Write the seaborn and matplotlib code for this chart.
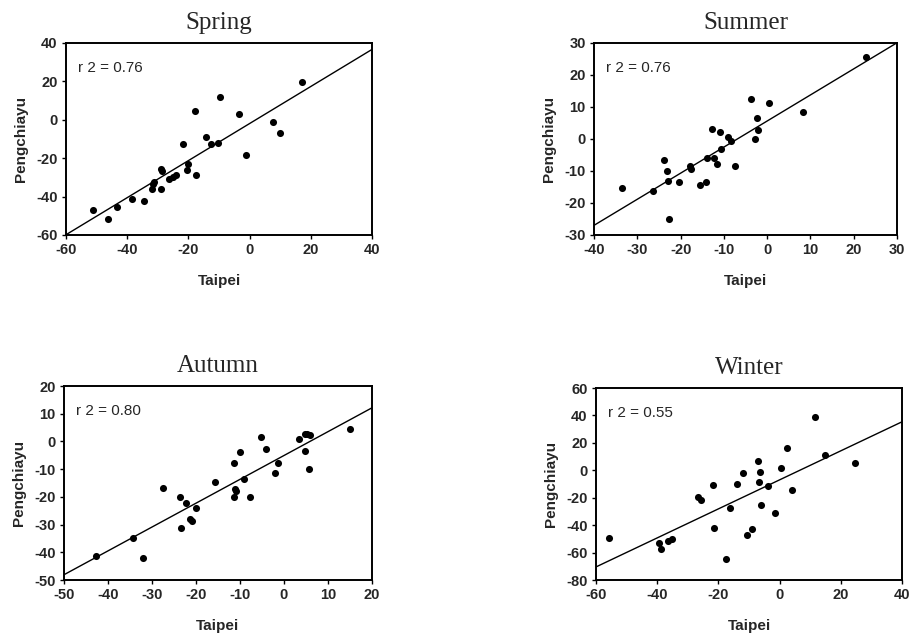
import numpy as np
import pandas as pd
import matplotlib
matplotlib.use("Agg")
import matplotlib.pyplot as plt
import seaborn as sns

sns.set_theme(style="white")
plt.rcParams['font.family'] = ['Liberation Sans', 'DejaVu Sans']
plt.rcParams['axes.unicode_minus'] = False

# ---- data ----
spring_taipei = [-51.1, -46.4, -43.4, -38.5, -34.4, -32.0, -31.2, -31.5, -29.0, -28.7,
                 -29.0, -26.2, -24.9, -24.1, -21.8, -20.2, -20.3, -18.0, -17.6, -14.2,
                 -12.6, -10.2, -9.7, -3.5, -1.1, 7.5, 10.0, 17.2]
spring_peng = [-47.0, -51.7, -45.2, -41.2, -42.4, -36.2, -32.2, -33.5, -25.7, -26.8,
               -36.0, -31.0, -30.0, -29.0, -12.7, -23.0, -26.0, 4.7, -29.0, -8.7,
               -12.7, -12.2, 11.8, 3.0, -18.1, -0.9, -7.0, 19.7]

summer_taipei = [-33.6, -26.4, -23.8, -23.2, -23.0, -22.7, -20.4, -17.8, -17.6, -15.6,
                 -14.1, -13.8, -12.8, -12.2, -11.5, -10.9, -10.6, -9.1, -8.4, -7.4,
                 -3.8, -2.7, -2.3, -2.1, 0.4, 8.3, 22.8]
summer_peng = [-15.2, -16.2, -6.5, -10.0, -13.2, -25.0, -13.5, -8.5, -9.5, -14.5,
               -13.3, -5.8, 3.2, -6.0, -7.8, 2.1, -3.1, 0.6, -0.5, -8.5,
               12.5, -0.1, 6.5, 2.7, 11.1, 8.5, 25.5]

autumn_taipei = [-42.7, -34.4, -32.0, -27.6, -23.7, -23.3, -22.3, -21.3, -20.8, -19.9,
                 -15.7, -11.4, -11.3, -11.2, -10.8, -9.9, -9.0, -7.8, -5.2, -4.0,
                 -2.1, -1.3, 3.4, 4.7, 4.8, 5.3, 5.9, 5.7, 14.9]
autumn_peng = [-41.4, -34.8, -41.9, -16.7, -20.2, -31.1, -22.2, -28.1, -28.6, -23.9,
               -14.7, -7.8, -20.2, -17.3, -17.9, -3.7, -13.6, -20.0, 1.7, -2.9,
               -11.4, -7.8, 0.7, -3.6, 2.7, 2.6, 2.4, -9.8, 4.4]

winter_taipei = [-55.8, -39.3, -38.7, -36.4, -35.2, -26.7, -25.6, -21.7, -21.5, -17.6,
                 -16.2, -13.8, -11.8, -10.5, -9.0, -7.2, -6.8, -6.4, -6.2, -3.9,
                 -1.6, 0.4, 2.4, 4.2, 11.7, 14.7, 24.7]
winter_peng = [-49.2, -53.1, -57.7, -51.2, -50.4, -19.4, -22.0, -10.6, -42.2, -65.0,
               -27.5, -10.0, -2.0, -47.0, -42.5, 6.5, -8.5, -1.5, -25.0, -11.5,
               -31.5, 2.0, 16.0, -14.5, 39.0, 11.0, 5.0]

seasons = ["Spring", "Summer", "Autumn", "Winter"]
r2_labels = ["r 2 = 0.76", "r 2 = 0.76", "r 2 = 0.80", "r 2 = 0.55"]
x_data = [spring_taipei, summer_taipei, autumn_taipei, winter_taipei]
y_data = [spring_peng, summer_peng, autumn_peng, winter_peng]
x_lims = [(-60, 40), (-40, 30), (-50, 20), (-60, 40)]
y_lims = [(-60, 40), (-30, 30), (-50, 20), (-80, 60)]
x_steps = [20, 10, 10, 20]
y_steps = [20, 10, 10, 20]

W, H = 914, 640
fig = plt.figure(figsize=(W / 100, H / 100), dpi=100)

# axes boxes in pixels: (left, top, right, bottom)
boxes = [(66, 43, 372, 235), (594, 43, 897, 235),
         (64, 386, 372, 580), (596, 388, 902, 580)]

for i, season in enumerate(seasons):
    l, t, r, b = boxes[i]
    ax = fig.add_axes([l / W, 1 - b / H, (r - l) / W, (b - t) / H])
    ax.set_xlim(*x_lims[i])
    ax.set_ylim(*y_lims[i])
    df = pd.DataFrame({"Taipei": x_data[i], "Pengchiayu": y_data[i]})
    sns.regplot(data=df, x="Taipei", y="Pengchiayu", ax=ax, ci=None, truncate=False,
                scatter_kws=dict(s=26, color="black", linewidths=0, alpha=1),
                line_kws=dict(color="black", linewidth=1.0))
    ax.set_xlim(*x_lims[i])
    ax.set_ylim(*y_lims[i])
    ax.set_xticks(np.arange(x_lims[i][0], x_lims[i][1] + 1, x_steps[i]))
    ax.set_yticks(np.arange(y_lims[i][0], y_lims[i][1] + 1, y_steps[i]))
    for sp in ax.spines.values():
        sp.set_visible(True)
        sp.set_color("black")
        sp.set_linewidth(1.4)
    ax.tick_params(direction="out", length=3, width=1, color="black",
                   labelsize=10.5, pad=3, bottom=True, left=True)
    for lab in ax.get_xticklabels() + ax.get_yticklabels():
        lab.set_fontweight("bold")
    ax.set_xlabel("Taipei", fontsize=11, fontweight="bold", labelpad=12)
    ax.set_ylabel("Pengchiayu", fontsize=11, fontweight="bold", labelpad=6)
    ax.set_title(season, fontsize=18, family="Liberation Serif", pad=10)
    ax.text(0.04, 0.87, r2_labels[i], transform=ax.transAxes, fontsize=11,
            ha="left", va="center")

fig.savefig("out.png", dpi=100)
